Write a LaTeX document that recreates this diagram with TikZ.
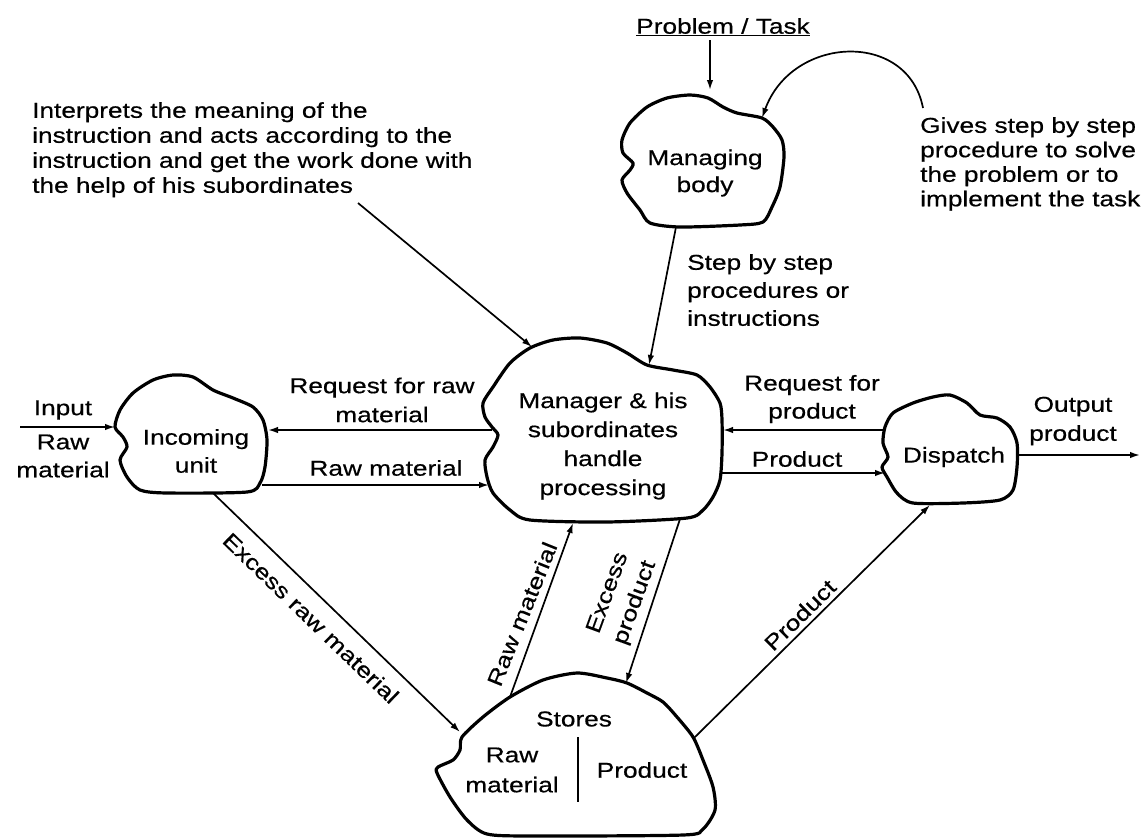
\documentclass[tikz,border=0pt]{standalone}
\usepackage{fontspec}
\setmainfont{Liberation Sans}[FakeStretch=1.22,FakeBold=0.5]
\usetikzlibrary{arrows.meta}
\newcommand\dgfont[1]{\fontsize{21.5}{#1}\selectfont}
\begin{document}
\begin{tikzpicture}[x=1pt,y=-1pt,
  blob/.style={line width=3.2pt,line join=round},
  arr/.style={line width=1.7pt,-{Latex[length=10pt,width=6.5pt]}},
  lbl/.style={inner sep=0pt,align=center,font=\dgfont{#1}},
  lbl/.default=28,
  lbll/.style={inner sep=0pt,align=left,font=\dgfont{#1}},
  lbll/.default=25]
\useasboundingbox (0,0) rectangle (1148,839);

% ---------- blobs ----------
\draw[blob] plot[smooth cycle,tension=0.45] coordinates {
 (630,123) (647,107) (667,98) (690,95) (708,98) (723,107) (737,113) (762,118)
 (773,127) (782,140) (784,157) (780,187) (772,207) (763,222) (740,225) (680,227)
 (650,223) (640,210) (627,193) (622,180) (630,170) (633,163) (623,153) (622,140)};
\node[lbl=27] (mb) at (705,173) {Managing\\body};

\draw[blob] plot[smooth cycle,tension=0.45] coordinates {
 (530,348) (553,340) (580,338) (607,343) (627,353) (647,365) (673,370) (697,375)
 (710,387) (720,403) (722,420) (722,453) (720,480) (713,497) (703,510) (687,518)
 (607,522) (530,520) (510,510) (493,493) (487,477) (485,460) (493,447) (498,435)
 (492,427) (485,417) (483,403) (493,387) (510,363)};
\node[lbl=29] (mgr) at (603,446) {Manager \& his\\subordinates\\handle\\processing};

\draw[blob] plot[smooth cycle,tension=0.45] coordinates {
 (133,393) (153,380) (173,375) (193,377) (213,390) (233,398) (253,407) (263,420)
 (267,440) (265,467) (260,483) (247,492) (167,493) (140,490) (127,477) (120,460)
 (127,447) (123,437) (115,427) (120,410)};
\node[lbl=28] (inc) at (196,451) {Incoming\\unit};

\draw[blob] plot[smooth cycle,tension=0.45] coordinates {
 (893,413) (913,403) (933,397) (950,395) (967,403) (980,415) (997,418) (1010,427)
 (1017,443) (1017,467) (1013,490) (1000,500) (963,503) (913,503) (897,493) (887,477)
 (882,467) (888,457) (883,443) (885,427)};
\node[lbl] (dsp) at (954,457) {Dispatch};

\draw[blob] plot[smooth cycle,tension=0.45] coordinates {
 (462,737) (483,717) (510,697) (543,680) (577,673) (607,678) (627,683) (647,693)
 (663,702) (677,717) (693,737) (703,760) (713,787) (715,810) (703,829) (683,835)
 (533,836) (487,834) (467,820) (450,797) (437,773) (438,767) (453,760) (460,750)};
\node[lbl] (st) at (574,719) {Stores};
\node[lbl=30] (strm) at (512,770) {Raw\\material};
\node[lbl] (stpr) at (642,770) {Product};
\draw[line width=1.7pt] (578,737) -- (578,802);

% ---------- free texts ----------
\node[lbl] (task) at (723,27) {\underline{Problem / Task}};
\node[lbll=25,anchor=north west] (interp) at (32,102)
 {Interprets the meaning of the\\instruction and acts according to the\\instruction and get the work done with\\the help of his subordinates};
\node[lbll=24.5,anchor=north west] (gives) at (920,117)
 {Gives step by step\\procedure to solve\\the problem or to\\implement the task};
\node[lbll=28,anchor=north west] (stepl) at (687,254)
 {Step by step\\procedures or\\instructions};
\node[lbl] (inl) at (63,410) {Input};
\node[lbl=28] (inrm) at (63,456) {Raw\\material};
\node[lbl=29] (reqraw) at (382,400) {Request for raw\\material};
\node[lbl] (rawl) at (386,468) {Raw material};
\node[lbl=28] (reqpr) at (812,399) {Request for\\product};
\node[lbl] (prl) at (797,459) {Product};
\node[lbl=29] (outl) at (1073,421) {Output\\product};
\node[lbl,rotate=-44] (exrl) at (311,618) {Excess raw material};
\node[lbl,rotate=68] (rml) at (522,614) {Raw material};
\node[lbl=29,rotate=70] (expl) at (622,598) {Excess\\product};
\node[lbl,rotate=44.6] (prdl) at (800,615) {Product};

% ---------- connector end points ----------
\coordinate (mbT) at (710,90);
\coordinate (mbNE) at (762,118);
\coordinate (gvS) at (923,108);
\coordinate (mbB) at (676,227);
\coordinate (mgrT) at (649,365);
\coordinate (intE) at (358,203);
\coordinate (mgrNW) at (532,347);
\coordinate (mgrW1) at (492,430);
\coordinate (incE1) at (268,430);
\coordinate (incE2) at (262,485);
\coordinate (mgrW2) at (489,485);
\coordinate (dspW1) at (884,430);
\coordinate (mgrE1) at (723,430);
\coordinate (mgrE2) at (721,473);
\coordinate (dspW2) at (885,473);
\coordinate (dspE) at (1017,455);
\coordinate (outE) at (1140,455);
\coordinate (inS) at (20,427);
\coordinate (incW) at (115,427);
\coordinate (incB) at (213,493);
\coordinate (stW) at (460,732);
\coordinate (stT1) at (510,697);
\coordinate (mgrB1) at (573,523);
\coordinate (mgrB2) at (680,519);
\coordinate (stT2) at (626,683);
\coordinate (stE) at (694,738);
\coordinate (dspB) at (930,505);

% ---------- connectors ----------
\draw[arr,shorten <=4pt] (task.south -| mbT) -- (mbT);
\draw[arr] (gvS) .. controls (908,30) and (792,35) .. (mbNE);
\draw[arr] (mbB) -- (mgrT);
\draw[arr] (intE) -- (mgrNW);
\draw[arr] (mgrW1) -- (incE1);
\draw[arr] (incE2) -- (mgrW2);
\draw[arr] (dspW1) -- (mgrE1);
\draw[arr] (mgrE2) -- (dspW2);
\draw[arr] (dspE) -- (outE);
\draw[arr] (inS) -- (incW);
\draw[arr] (incB) -- (stW);
\draw[arr] (stT1) -- (mgrB1);
\draw[arr] (mgrB2) -- (stT2);
\draw[arr] (stE) -- (dspB);
\end{tikzpicture}
\end{document}
